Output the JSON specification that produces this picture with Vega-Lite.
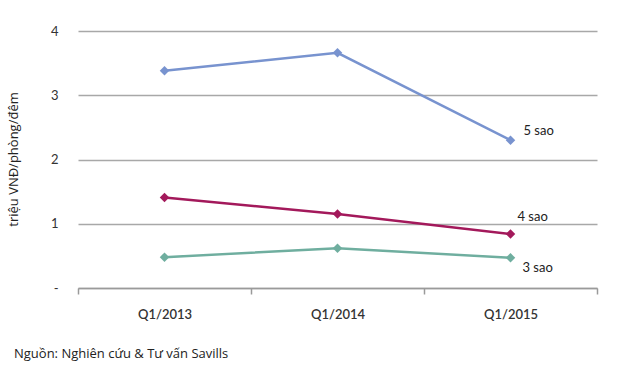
{
  "$schema": "https://vega.github.io/schema/vega-lite/v6.json",
  "width": 519,
  "height": 257,
  "autosize": {"type": "none"},
  "padding": {"left": 78, "top": 31, "right": 23, "bottom": 83},
  "background": "white",
  "config": {
    "view": {"stroke": null},
    "font": "Lato"
  },
  "title": {
    "text": "Nguồn: Nghiên cứu & Tư vấn Savills",
    "orient": "bottom",
    "anchor": "start",
    "frame": "group",
    "dx": -64,
    "offset": 27,
    "fontSize": 13,
    "fontWeight": "normal",
    "color": "#222222",
    "font": "Open Sans"
  },
  "data": {
    "values": [
      {"quy": "Q1/2013", "hang": "5 sao", "gia": 3.38},
      {"quy": "Q1/2014", "hang": "5 sao", "gia": 3.66},
      {"quy": "Q1/2015", "hang": "5 sao", "gia": 2.3},
      {"quy": "Q1/2013", "hang": "4 sao", "gia": 1.41},
      {"quy": "Q1/2014", "hang": "4 sao", "gia": 1.15},
      {"quy": "Q1/2015", "hang": "4 sao", "gia": 0.84},
      {"quy": "Q1/2013", "hang": "3 sao", "gia": 0.48},
      {"quy": "Q1/2014", "hang": "3 sao", "gia": 0.62},
      {"quy": "Q1/2015", "hang": "3 sao", "gia": 0.47}
    ]
  },
  "encoding": {
    "x": {
      "field": "quy",
      "type": "nominal",
      "bandPosition": 0.5,
      "scale": {"type": "band", "paddingInner": 0, "paddingOuter": 0},
      "axis": {
        "title": null,
        "labelAngle": 0,
        "labelFontSize": 13,
        "labelFontWeight": 600,
        "labelColor": "#333333",
        "labelPadding": 14,
        "tickBand": "extent",
        "tickSize": 6,
        "tickColor": "#9a9a9a",
        "domainColor": "#9a9a9a",
        "domainWidth": 1.5,
        "tickWidth": 1.5,
        "grid": false
      }
    },
    "y": {
      "field": "gia",
      "type": "quantitative",
      "scale": {"domain": [0, 4]},
      "axis": {
        "title": "triệu VNĐ/phòng/đêm",
        "titleFont": "Open Sans",
        "titleFontSize": 13,
        "titleFontWeight": "normal",
        "titleColor": "#222222",
        "titleX": -58,
        "titleY": 128,
        "values": [0, 1, 2, 3, 4],
        "labelExpr": "datum.value == 0 ? '-' : datum.label",
        "labelFontSize": 13,
        "labelColor": "#333333",
        "labelPadding": 20,
        "domain": false,
        "ticks": false,
        "gridColor": "#a8a8a8",
        "gridWidth": 1.5
      }
    },
    "color": {
      "field": "hang",
      "type": "nominal",
      "scale": {"domain": ["5 sao", "4 sao", "3 sao"], "range": ["#7893cf", "#a3195b", "#6fae9f"]},
      "legend": null
    }
  },
  "layer": [
    {"mark": {"type": "line", "strokeWidth": 2.5}},
    {"mark": {"type": "point", "shape": "diamond", "filled": true, "size": 90, "opacity": 1}},
    {
      "transform": [{"filter": "datum.quy == 'Q1/2015' && datum.hang == '5 sao'"}],
      "mark": {"type": "text", "align": "left", "dx": 13, "dy": -9, "fontSize": 13, "color": "#222222"},
      "encoding": {"text": {"field": "hang"}, "color": {"value": "#222222"}}
    },
    {
      "transform": [{"filter": "datum.quy == 'Q1/2015' && datum.hang == '4 sao'"}],
      "mark": {"type": "text", "align": "left", "dx": 7, "dy": -17, "fontSize": 13, "color": "#222222"},
      "encoding": {"text": {"field": "hang"}, "color": {"value": "#222222"}}
    },
    {
      "transform": [{"filter": "datum.quy == 'Q1/2015' && datum.hang == '3 sao'"}],
      "mark": {"type": "text", "align": "left", "dx": 12, "dy": 10, "fontSize": 13, "color": "#222222"},
      "encoding": {"text": {"field": "hang"}, "color": {"value": "#222222"}}
    }
  ]
}
